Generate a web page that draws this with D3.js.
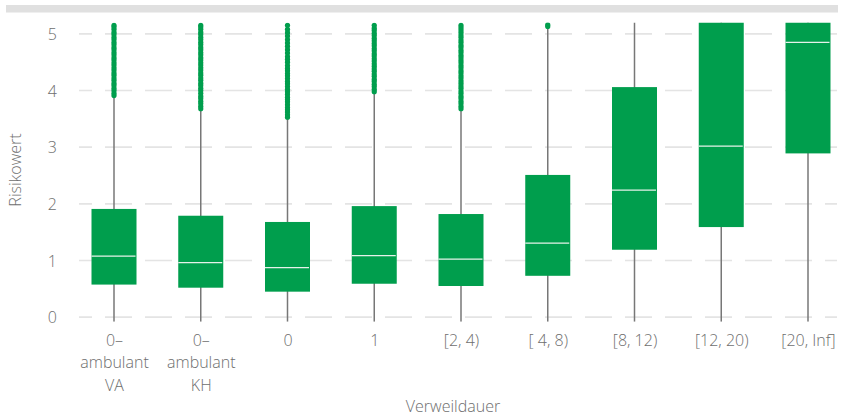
<!DOCTYPE html>
<html>
<head>
<meta charset="utf-8">
<script src="https://cdn.jsdelivr.net/npm/d3@7"></script>
<style>
  body { margin: 0; background: #fff; }
  text { font-family: 'Open Sans', sans-serif; font-weight: 300; fill: #6e6e6e; }
</style>
</head>
<body>
<script>
const categories = ['0–ambulant VA', '0–ambulant KH', '0', '1', '[2, 4)', '[ 4, 8)', '[8, 12)', '[12, 20)', '[20, Inf]'];
const tickLines = [['0–', 'ambulant', 'VA'], ['0–', 'ambulant', 'KH'], ['0'], ['1'], ['[2, 4)'], ['[ 4, 8)'], ['[8, 12)'], ['[12, 20)'], ['[20, Inf]']];
const yTicks = [0, 1, 2, 3, 4, 5];

const whiskerLow = [-0.08, -0.08, -0.08, -0.08, -0.08, -0.08, -0.08, -0.08, -0.08];
const q1 = [0.575, 0.52, 0.45, 0.59, 0.55, 0.73, 1.19, 1.59, 2.89];
const median = [1.077, 0.963, 0.875, 1.087, 1.024, 1.306, 2.241, 3.02, 4.85];
const q3 = [1.91, 1.79, 1.68, 1.96, 1.82, 2.51, 4.06, 5.2, 5.2];
const whiskerHigh = [3.87, 3.64, 3.5, 3.94, 3.64, 5.1, 5.2, 5.2, 5.2];

const outVA = [3.91, 3.95, 4.0, 4.04, 4.09, 4.13, 4.18, 4.22, 4.27, 4.31, 4.36, 4.4, 4.45, 4.49, 4.54, 4.58, 4.63, 4.67, 4.72, 4.76, 4.81, 4.85, 4.9, 4.94, 4.99, 5.03, 5.08, 5.12, 5.15];
const outKH = [3.68, 3.72, 3.77, 3.81, 3.86, 3.9, 3.95, 4.0, 4.04, 4.09, 4.13, 4.18, 4.22, 4.27, 4.31, 4.36, 4.4, 4.45, 4.49, 4.54, 4.58, 4.63, 4.67, 4.72, 4.76, 4.81, 4.85, 4.9, 4.94, 4.99, 5.03, 5.08, 5.12, 5.15];
const out0 = [3.53, 3.57, 3.62, 3.66, 3.7, 3.75, 3.8, 3.84, 3.88, 3.93, 3.98, 4.02, 4.07, 4.12, 4.16, 4.21, 4.26, 4.3, 4.35, 4.39, 4.44, 4.5, 4.55, 4.6, 4.66, 4.72, 4.78, 4.84, 4.9, 4.96, 5.02, 5.08, 5.15];
const out1 = [3.98, 4.02, 4.07, 4.11, 4.16, 4.2, 4.25, 4.29, 4.34, 4.38, 4.43, 4.47, 4.52, 4.56, 4.61, 4.65, 4.7, 4.74, 4.79, 4.83, 4.88, 4.92, 4.97, 5.01, 5.06, 5.1, 5.15];
const out2to4 = [3.68, 3.72, 3.77, 3.81, 3.86, 3.9, 3.95, 3.99, 4.04, 4.08, 4.13, 4.17, 4.22, 4.26, 4.31, 4.35, 4.4, 4.44, 4.49, 4.53, 4.58, 4.62, 4.67, 4.71, 4.76, 4.8, 4.85, 4.89, 4.94, 4.98, 5.03, 5.07, 5.11, 5.15];
const out4to8 = [5.13, 5.16];
const outliers = [outVA, outKH, out0, out1, out2to4, out4to8, [], [], []];

const width = 842;
const height = 417;
const plotLeft = 79, plotRight = 837, plotTop = 22.5, plotBottom = 321.7;
const boxWidth = 45;
const green = '#009e4d';

const boxes = categories.map((c, i) => ({
    cat: c, lo: whiskerLow[i], q1: q1[i], med: median[i], q3: q3[i], hi: whiskerHigh[i], out: outliers[i]
}));

const xScale = d3.scalePoint()
    .domain(categories)
    .range([114, 808]);

const yScale = d3.scaleLinear()
    .domain([-0.08, 5.2])
    .range([plotBottom, plotTop]);

const svg = d3.select('body')
    .append('svg')
    .attr('width', width)
    .attr('height', height);

svg.append('defs').append('clipPath')
    .attr('id', 'clip')
    .append('rect')
    .attr('x', plotLeft - 10)
    .attr('y', plotTop)
    .attr('width', plotRight - plotLeft + 20)
    .attr('height', plotBottom - plotTop);

// strip on top
svg.append('rect')
    .attr('x', 6)
    .attr('y', 5)
    .attr('width', 832)
    .attr('height', 7.5)
    .attr('fill', '#e0e0e0');

// grid
svg.append('g')
    .selectAll('line')
    .data(yTicks)
    .enter()
    .append('line')
    .attr('x1', plotLeft)
    .attr('x2', plotRight)
    .attr('y1', (d) => yScale(d))
    .attr('y2', (d) => yScale(d))
    .attr('stroke', '#e4e4e4')
    .attr('stroke-width', 1.6)
    .attr('stroke-dasharray', '27,13')
    .attr('stroke-dashoffset', 14);

const plot = svg.append('g').attr('clip-path', 'url(#clip)');

// whiskers
plot.selectAll('.whisker')
    .data(boxes)
    .enter()
    .append('line')
    .attr('class', 'whisker')
    .attr('x1', (d) => xScale(d.cat))
    .attr('x2', (d) => xScale(d.cat))
    .attr('y1', (d) => yScale(d.lo))
    .attr('y2', (d) => yScale(d.hi))
    .attr('stroke', '#777')
    .attr('stroke-width', 1.5);

// outliers
boxes.forEach((b) => {
    plot.selectAll(null)
        .data(b.out)
        .enter()
        .append('circle')
        .attr('cx', xScale(b.cat))
        .attr('cy', (d) => yScale(d))
        .attr('r', 2.6)
        .attr('fill', green);
});

// boxes
plot.selectAll('.box')
    .data(boxes)
    .enter()
    .append('rect')
    .attr('class', 'box')
    .attr('x', (d) => xScale(d.cat) - boxWidth / 2)
    .attr('y', (d) => yScale(d.q3))
    .attr('width', boxWidth)
    .attr('height', (d) => yScale(d.q1) - yScale(d.q3))
    .attr('fill', green);

plot.selectAll('.median')
    .data(boxes)
    .enter()
    .append('line')
    .attr('class', 'median')
    .attr('x1', (d) => xScale(d.cat) - boxWidth / 2)
    .attr('x2', (d) => xScale(d.cat) + boxWidth / 2 - 1)
    .attr('y1', (d) => yScale(d.med))
    .attr('y2', (d) => yScale(d.med))
    .attr('stroke', '#e6f2ea')
    .attr('stroke-width', 1.3);

// axes
const yAxis = d3.axisLeft(yScale)
    .tickValues(yTicks)
    .tickFormat(d3.format('d'))
    .tickSize(0)
    .tickPadding(0);

const yG = svg.append('g')
    .attr('transform', 'translate(57, 0)')
    .call(yAxis);
yG.select('.domain').remove();
yG.selectAll('text')
    .attr('font-size', 16)
    .attr('dy', '0.35em');

const xAxis = d3.axisBottom(xScale)
    .tickSize(0)
    .tickFormat('');

const xG = svg.append('g')
    .attr('transform', 'translate(0, ' + plotBottom + ')')
    .call(xAxis);
xG.select('.domain').remove();
xG.selectAll('.tick text').remove();
xG.selectAll('.tick')
    .append('text')
    .attr('text-anchor', 'middle')
    .attr('font-size', 16)
    .selectAll('tspan')
    .data((d, i) => tickLines[i])
    .enter()
    .append('tspan')
    .attr('x', 0)
    .attr('y', (d, i) => 24 + i * 22.5)
    .text((d) => d);

svg.append('text')
    .attr('x', 453)
    .attr('y', 412)
    .attr('text-anchor', 'middle')
    .attr('font-size', 16)
    .text('Verweildauer');

svg.append('text')
    .attr('transform', 'translate(21, 170) rotate(-90)')
    .attr('text-anchor', 'middle')
    .attr('font-size', 16)
    .text('Risikowert');
</script>
</body>
</html>
